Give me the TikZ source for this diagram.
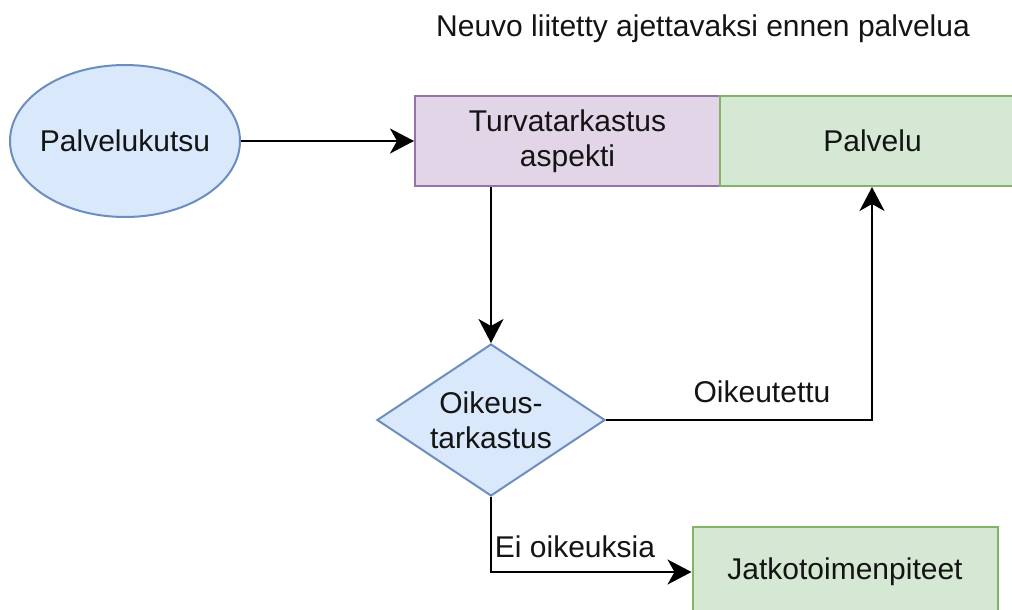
\documentclass[tikz,border=0pt]{standalone}
\usepackage{fontspec}
\setmainfont{Liberation Sans}
\usetikzlibrary{shapes.geometric,arrows.meta}
\definecolor{blueFill}{HTML}{DAE8FC}
\definecolor{blueLine}{HTML}{6C8EBF}
\definecolor{purpleFill}{HTML}{E1D5E7}
\definecolor{purpleLine}{HTML}{9673A6}
\definecolor{greenFill}{HTML}{D5E8D4}
\definecolor{greenLine}{HTML}{82B366}
\definecolor{ink}{HTML}{141414}
\tikzset{
  every node/.style={font=\fontsize{30}{35}\selectfont, text=ink, inner sep=0pt, align=center},
  startnode/.style={ellipse, draw=blueLine, fill=blueFill, line width=2pt,
    minimum width=230pt, minimum height=152pt},
  choice/.style={diamond, draw=blueLine, fill=blueFill, line width=2pt,
    minimum width=228pt, minimum height=152pt, aspect=1.5},
  aspectbox/.style={rectangle, draw=purpleLine, fill=purpleFill, line width=2pt,
    minimum width=305pt, minimum height=90pt},
  servicebox/.style={rectangle, draw=greenLine, fill=greenFill, line width=2pt,
    minimum width=305pt, minimum height=90pt},
  flow/.style={draw=black, line width=2.2pt,
    -{Stealth[length=24pt, width=25pt, inset=7pt]}},
}
\begin{document}
\begin{tikzpicture}[x=1pt, y=-1pt]
  \useasboundingbox (0,0) rectangle (1012,610);
  \clip (0,0) rectangle (1012,610);
  \fill[white] (0,0) rectangle (1012,610);

  % heading
  \node (heading) at (703,29) {Neuvo liitetty ajettavaksi ennen palvelua};

  % nodes
  \node[startnode] (call) at (125,141) {\makebox[0pt]{Palvelukutsu}};
  \node[aspectbox] (check) at (567.5,141) {Turvatarkastus\\aspekti};
  \node[servicebox] (service) at (872.5,141) {Palvelu};
  \node[choice] (rights) at (491,420) {\makebox[0pt]{Oikeus-}\\\makebox[0pt]{tarkastus}};
  \node[servicebox] (further) at (845,572) {Jatkotoimenpiteet};

  % connectors
  \draw[flow] (call.east) -- (check.west);
  \draw[flow] (rights.north |- check.south) -- (rights.north);
  \coordinate (up) at (872,420);
  \draw[flow] (rights.east) -- (up) -- (up |- service.south);
  \coordinate (down) at (491,572);
  \draw[flow] (rights.south) -- (down) -- (further.west);

  % edge labels
  \node (granted) at (762,392) {Oikeutettu};
  \node (denied) at (575,547) {Ei oikeuksia};
\end{tikzpicture}
\end{document}
